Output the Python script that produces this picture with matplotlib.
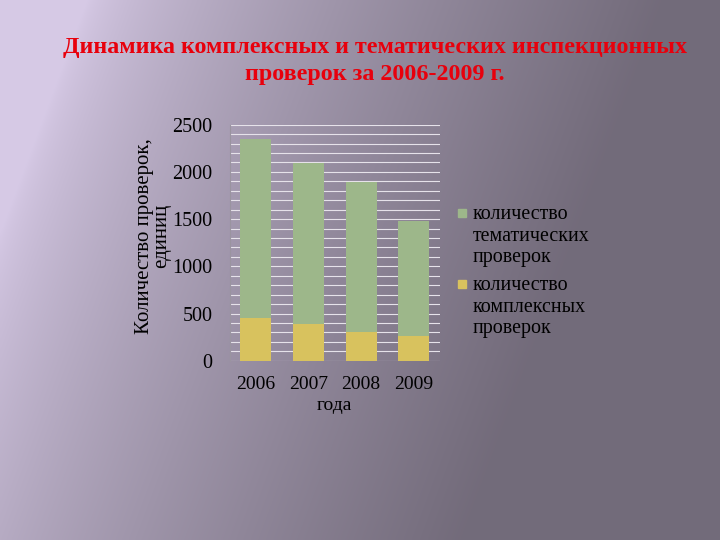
import matplotlib
matplotlib.use('Agg')
import matplotlib.pyplot as plt
import numpy as np
from matplotlib.patches import Rectangle

years = ['2006', '2007', '2008', '2009']
kompleksnye = [450, 385, 300, 265]
tematicheskie = [1900, 1705, 1590, 1220]

title = 'Динамика комплексных и тематических инспекционных\nпроверок за 2006-2009 г.'
ylabel = 'Количество проверок,\nединиц'
xlabel = 'года'
legend_labels = ['количество\nтематических\nпроверок', 'количество\nкомплексных\nпроверок']

green = '#9db78a'
yellow = '#d8c25e'

fig = plt.figure(figsize=(7.2, 5.4), dpi=100)

# фон: диагональный градиент
bg = fig.add_axes([0, 0, 1, 1])
h, w = 270, 360
yy, xx = np.mgrid[0:h, 0:w]
t = np.clip((xx / w) * 1.25 + (yy / h) * 0.35 - 0.15, 0, 1)
t = t ** 0.7
light = np.array([0.84, 0.79, 0.90])
dark = np.array([0.45, 0.42, 0.48])
img = light[None, None, :] * (1 - t[..., None]) + dark[None, None, :] * t[..., None]
bg.imshow(img, aspect='auto', extent=[0, 1, 0, 1], interpolation='bilinear')
bg.axis('off')

ax = fig.add_axes([0.319, 0.332, 0.292, 0.437])
ax.patch.set_alpha(0)
x = np.arange(len(years))
ax.bar(x, kompleksnye, width=0.59, color=yellow, zorder=3)
ax.bar(x, tematicheskie, width=0.59, bottom=kompleksnye, color=green, zorder=3)

ax.set_xlim(-0.5, 3.5)
ax.set_ylim(0, 2500)
ax.set_yticks(np.arange(0, 2501, 500))
ax.set_yticks(np.arange(0, 2501, 100), minor=True)
ax.grid(True, which='both', axis='y', color='#e6e2ea', linewidth=0.8, zorder=0)
ax.set_xticks(x)
ax.set_xticklabels(years)

for s in ['top', 'right', 'bottom']:
    ax.spines[s].set_visible(False)
ax.spines['left'].set_color('#9a94a0')
ax.tick_params(axis='y', which='major', length=0, pad=12.5)
ax.tick_params(axis='y', which='minor', length=0)
ax.tick_params(axis='x', length=0, pad=11)

serif = 'Liberation Serif'
for lab in ax.get_yticklabels():
    lab.set_fontfamily(serif)
    lab.set_fontsize(14.5)
for lab in ax.get_xticklabels():
    lab.set_fontfamily(serif)
    lab.set_fontsize(14)

ax.set_xlabel(xlabel, fontfamily=serif, fontsize=14, labelpad=3)
ax.set_ylabel(ylabel, fontfamily=serif, fontsize=15, linespacing=0.85)
ax.yaxis.set_label_coords(-0.28, 0.53)

fig.text(0.521, 0.887, title, ha='center', va='center', color='#e8000c',
         fontfamily=serif, fontweight='bold', fontsize=17.3, linespacing=1.35)

# легенда: квадрат на уровне первой строки подписи
W, H = 720, 540
for (ytop, col, lab) in [(205, green, legend_labels[0]), (276, yellow, legend_labels[1])]:
    fig.add_artist(Rectangle((458 / W, 1 - (ytop + 12) / H), 8 / W, 8 / H,
                             transform=fig.transFigure, color=col))
    fig.text(473 / W, 1 - ytop / H, lab, ha='left', va='top', fontfamily=serif,
             fontsize=14.4, linespacing=1.18)

fig.savefig('out.png', dpi=100)
